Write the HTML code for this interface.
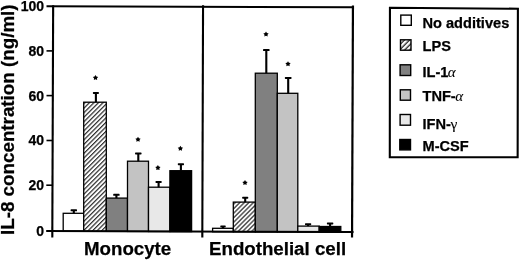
<!DOCTYPE html>
<html><head><meta charset="utf-8">
<style>
html,body{margin:0;padding:0;background:#fff;width:520px;height:260px;overflow:hidden}
svg{display:block;filter:grayscale(1)}
text{font-family:"Liberation Sans",sans-serif;font-weight:bold;fill:#000;stroke:#000;stroke-width:0.25px}
.g{stroke-width:0.1px}
.g{font-family:"Liberation Serif",serif;font-weight:normal;font-style:italic}
</style></head><body>
<svg width="520" height="260" viewBox="0 0 520 260">
<defs>
<pattern id="hatch" patternUnits="userSpaceOnUse" width="3.2" height="3.2" patternTransform="rotate(45)">
<rect width="3.2" height="3.2" fill="#fff"/>
<rect x="0.95" y="0" width="1.0" height="3.2" fill="#000"/>
</pattern>
<pattern id="hatch2" patternUnits="userSpaceOnUse" width="3.2" height="3.2" patternTransform="rotate(45)">
<rect width="3.2" height="3.2" fill="#fff"/>
<rect x="1.9" y="0" width="1.0" height="3.2" fill="#000"/>
</pattern>
<pattern id="hatch3" patternUnits="userSpaceOnUse" width="3.6" height="3.6" patternTransform="rotate(45)">
<rect width="3.6" height="3.6" fill="#fff"/>
<rect x="0.5" y="0" width="1.1" height="3.6" fill="#000"/>
</pattern>

</defs>
<g stroke="#000" stroke-width="1.3">
<rect x="63.20" y="213.30" width="20.50" height="17.90" fill="#fff"/>
<rect x="83.70" y="102.20" width="22.60" height="129.08" fill="url(#hatch)"/>
<rect x="106.30" y="198.10" width="21.20" height="33.27" fill="#808080"/>
<rect x="127.50" y="161.20" width="21.00" height="70.24" fill="#c3c3c3"/>
<rect x="148.50" y="187.20" width="21.40" height="44.32" fill="#e8e8e8"/>
<rect x="169.90" y="170.70" width="21.70" height="60.90" fill="#000"/>
<rect x="212.60" y="228.30" width="20.70" height="3.46" fill="#fff"/>
<rect x="233.30" y="202.10" width="22.00" height="29.74" fill="url(#hatch2)"/>
<rect x="255.30" y="73.20" width="22.00" height="158.72" fill="#808080"/>
<rect x="277.30" y="93.30" width="20.50" height="138.70" fill="#c3c3c3"/>
<rect x="297.80" y="226.10" width="21.40" height="5.98" fill="#e8e8e8"/>
<rect x="319.20" y="226.50" width="21.60" height="5.66" fill="#000"/>
</g>
<g fill="#000">
<rect x="72.75" y="210.30" width="2.1" height="3.00"/><rect x="70.60" y="209.30" width="6.40" height="2.00" rx="0.6"/>
<rect x="94.85" y="92.90" width="2.1" height="9.30"/><rect x="92.90" y="91.90" width="6.00" height="2.00" rx="0.6"/>
<rect x="115.35" y="194.80" width="2.1" height="3.30"/><rect x="113.20" y="193.80" width="6.40" height="2.00" rx="0.6"/>
<rect x="137.25" y="153.40" width="2.1" height="7.80"/><rect x="135.05" y="152.40" width="6.50" height="2.00" rx="0.6"/>
<rect x="157.55" y="181.90" width="2.1" height="5.30"/><rect x="155.50" y="180.90" width="6.20" height="2.00" rx="0.6"/>
<rect x="179.85" y="164.20" width="2.1" height="6.50"/><rect x="177.80" y="163.20" width="6.20" height="2.00" rx="0.6"/>
<rect x="221.95" y="226.40" width="2.1" height="1.90"/><rect x="220.30" y="225.40" width="5.40" height="2.00" rx="0.6"/>
<rect x="244.15" y="197.70" width="2.1" height="4.40"/><rect x="242.15" y="196.70" width="6.10" height="2.00" rx="0.6"/>
<rect x="265.25" y="50.00" width="2.1" height="23.20"/><rect x="263.05" y="49.00" width="6.50" height="2.00" rx="0.6"/>
<rect x="287.15" y="77.90" width="2.1" height="15.40"/><rect x="284.85" y="76.90" width="6.70" height="2.00" rx="0.6"/>
<rect x="307.05" y="224.20" width="2.1" height="1.90"/><rect x="305.00" y="223.20" width="6.20" height="2.00" rx="0.6"/>
<rect x="329.05" y="223.40" width="2.1" height="3.10"/><rect x="326.90" y="222.40" width="6.40" height="2.00" rx="0.6"/>
</g>
<g fill="#000">
<polygon transform="translate(95.5 77.6)" points="0.00,-2.65 0.91,-1.10 2.66,-0.72 1.47,0.63 1.65,2.42 0.00,1.70 -1.65,2.42 -1.47,0.63 -2.66,-0.72 -0.91,-1.10"/>
<polygon transform="translate(138 139.4)" points="0.00,-2.65 0.91,-1.10 2.66,-0.72 1.47,0.63 1.65,2.42 0.00,1.70 -1.65,2.42 -1.47,0.63 -2.66,-0.72 -0.91,-1.10"/>
<polygon transform="translate(157.9 167.7)" points="0.00,-2.65 0.91,-1.10 2.66,-0.72 1.47,0.63 1.65,2.42 0.00,1.70 -1.65,2.42 -1.47,0.63 -2.66,-0.72 -0.91,-1.10"/>
<polygon transform="translate(180.4 148.4)" points="0.00,-2.65 0.91,-1.10 2.66,-0.72 1.47,0.63 1.65,2.42 0.00,1.70 -1.65,2.42 -1.47,0.63 -2.66,-0.72 -0.91,-1.10"/>
<polygon transform="translate(245 182.6)" points="0.00,-2.65 0.91,-1.10 2.66,-0.72 1.47,0.63 1.65,2.42 0.00,1.70 -1.65,2.42 -1.47,0.63 -2.66,-0.72 -0.91,-1.10"/>
<polygon transform="translate(266 34.1)" points="0.00,-2.65 0.91,-1.10 2.66,-0.72 1.47,0.63 1.65,2.42 0.00,1.70 -1.65,2.42 -1.47,0.63 -2.66,-0.72 -0.91,-1.10"/>
<polygon transform="translate(288 63.8)" points="0.00,-2.65 0.91,-1.10 2.66,-0.72 1.47,0.63 1.65,2.42 0.00,1.70 -1.65,2.42 -1.47,0.63 -2.66,-0.72 -0.91,-1.10"/>
</g>
<g stroke="#000" fill="none">
<line x1="53.15" y1="5.2" x2="52.3" y2="237.5" stroke-width="2.1"/>
<line x1="203.05" y1="5.2" x2="202.3" y2="237.5" stroke-width="2.1"/>
<line x1="352.95" y1="5.6" x2="352.05" y2="237.5" stroke-width="2.2"/>
<line x1="46.5" y1="6.15" x2="354" y2="7.35" stroke-width="2"/>
<line x1="46.2" y1="230.95" x2="353.5" y2="232.1" stroke-width="2"/>
<line x1="46.5" y1="50.9" x2="52.9" y2="50.9" stroke-width="1.6"/>
<line x1="46.5" y1="95.6" x2="52.9" y2="95.6" stroke-width="1.6"/>
<line x1="46.5" y1="140.5" x2="52.9" y2="140.5" stroke-width="1.6"/>
<line x1="46.3" y1="185.2" x2="52.7" y2="185.2" stroke-width="1.6"/>
</g>
<g font-size="14" text-anchor="end">
<text x="44" y="10.9">100</text>
<text x="44" y="55.8">80</text>
<text x="44" y="100.5">60</text>
<text x="44" y="145.4">40</text>
<text x="44" y="190.1">20</text>
<text x="44" y="236">0</text>
</g>
<text font-size="18.8" transform="translate(13.8,235) rotate(-90)">IL-8 concentration (ng/ml)</text>
<text font-size="18.7" x="84" y="254.8">Monocyte</text>
<text font-size="18.7" x="209" y="255">Endothelial cell</text>
<path d="M389.95,7.75 L517.9,8.75 L517.65,157.3 L389.8,157.3 Z" fill="none" stroke="#000" stroke-width="2.1" stroke-linejoin="miter"/>
<g stroke="#000" stroke-width="1.4">
<rect x="400.8" y="15.1" width="10.5" height="10.2" fill="#fff"/>
<rect x="400.5" y="39.8" width="10.5" height="10.4" fill="url(#hatch3)"/>
<rect x="400.1" y="64.8" width="10.6" height="10.7" fill="#808080"/>
<rect x="400.3" y="89.8" width="10.2" height="10.4" fill="#c3c3c3"/>
<rect x="400.1" y="114.5" width="10.4" height="10.7" fill="#e8e8e8"/>
<rect x="399.8" y="139.5" width="10.7" height="10.4" fill="#000"/>
</g>
<g font-size="14.6">
<text x="422.5" y="27.8">No additives</text>
<text x="422.5" y="51.2">LPS</text>
<text x="422.5" y="77.2">IL-1<tspan class="g" font-size="15" dx="-0.6">α</tspan></text>
<text x="422.5" y="101.1">TNF-<tspan class="g" font-size="15" dx="-0.6">α</tspan></text>
<text x="422.5" y="128.6">IFN-<tspan class="g" font-size="15.5" dx="-0.3" style="font-style:normal">γ</tspan></text>
<text x="422.5" y="151.3">M-CSF</text>
</g>
</svg>
</body></html>
